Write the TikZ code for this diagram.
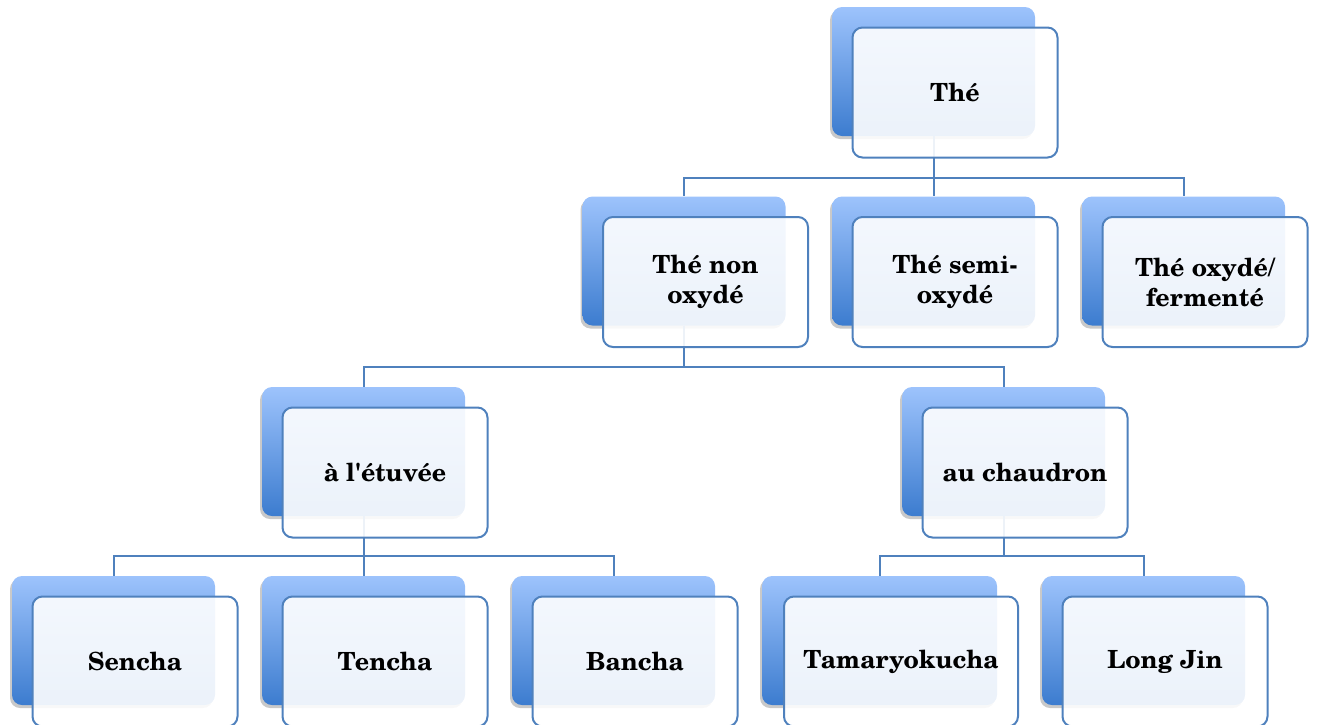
\documentclass[tikz,border=0pt]{standalone}
\usepackage{fontspec}
\setmainfont{TeX Gyre Schola}
\usetikzlibrary{shadows}
\definecolor{bTop}{RGB}{157,195,252}
\definecolor{bBot}{RGB}{60,124,207}
\definecolor{edge}{RGB}{79,129,189}
\begin{document}
\begin{tikzpicture}[x=1pt,y=-1pt,
  backbox/.style={rectangle, rounded corners=10pt, minimum width=203pt, minimum height=129pt, inner sep=0pt,
    top color=bTop, bottom color=bBot,
    drop shadow={shadow xshift=-2pt, shadow yshift=-3pt, opacity=0.3, fill=black!70}},
  frontbox/.style={rectangle, rounded corners=10pt, minimum width=205pt, minimum height=130pt, inner sep=0pt,
    draw=edge, line width=2pt, fill=white, fill opacity=0.9, text opacity=1, align=center,
    font=\bfseries\fontsize{25}{30}\selectfont},
  conn/.style={draw=edge, line width=2pt}]
\useasboundingbox (0,0) rectangle (1318,724);
% back boxes
\node[backbox] (bThe) at (933.5,71.5) {};
\node[backbox] (bNon) at (684,261) {};
\node[backbox] (bSemi) at (933.5,261) {};
\node[backbox] (bOxy) at (1183.5,261) {};
\node[backbox] (bEtu) at (363.5,451.5) {};
\node[backbox] (bCha) at (1003.5,451.5) {};
\node[backbox] (bSen) at (113.5,640.5) {};
\node[backbox] (bTen) at (363.5,640.5) {};
\node[backbox] (bBan) at (613.5,640.5) {};
\node[backbox, minimum width=235pt] (bTam) at (879.5,640.5) {};
\node[backbox] (bLon) at (1143.5,640.5) {};
% connectors
\coordinate (h1) at (0,177.5);
\coordinate (h2) at (0,367);
\coordinate (h3) at (0,556);
\foreach \c in {bNon,bSemi,bOxy}
  \draw[conn] (bThe.south) -- (bThe.south |- h1) -| (\c.north);
\foreach \c in {bEtu,bCha}
  \draw[conn] (bNon.south) -- (bNon.south |- h2) -| (\c.north);
\foreach \c in {bSen,bTen,bBan}
  \draw[conn] (bEtu.south) -- (bEtu.south |- h3) -| (\c.north);
\foreach \c in {bTam,bLon}
  \draw[conn] (bCha.south) -- (bCha.south |- h3) -| (\c.north);
% front boxes
\node[frontbox] (fThe) at (955,92.5) {Thé};
\node[frontbox] (fNon) at (705.5,282) {Thé non\\oxydé};
\node[frontbox] (fSemi) at (955,282) {Thé semi-\\oxydé};
\node[frontbox] (fOxy) at (1205,282) {Thé oxydé/\\fermenté};
\node[frontbox] (fEtu) at (385,472.5) {à l\textquotesingle étuvée};
\node[frontbox] (fCha) at (1025,472.5) {au chaudron};
\node[frontbox] (fSen) at (135,661.5) {Sencha};
\node[frontbox] (fTen) at (385,661.5) {Tencha};
\node[frontbox] (fBan) at (635,661.5) {Bancha};
\node[frontbox, minimum width=234pt] (fTam) at (901,661.5) {Tamaryokucha};
\node[frontbox] (fLon) at (1165,661.5) {Long Jin};
\end{tikzpicture}
\end{document}
